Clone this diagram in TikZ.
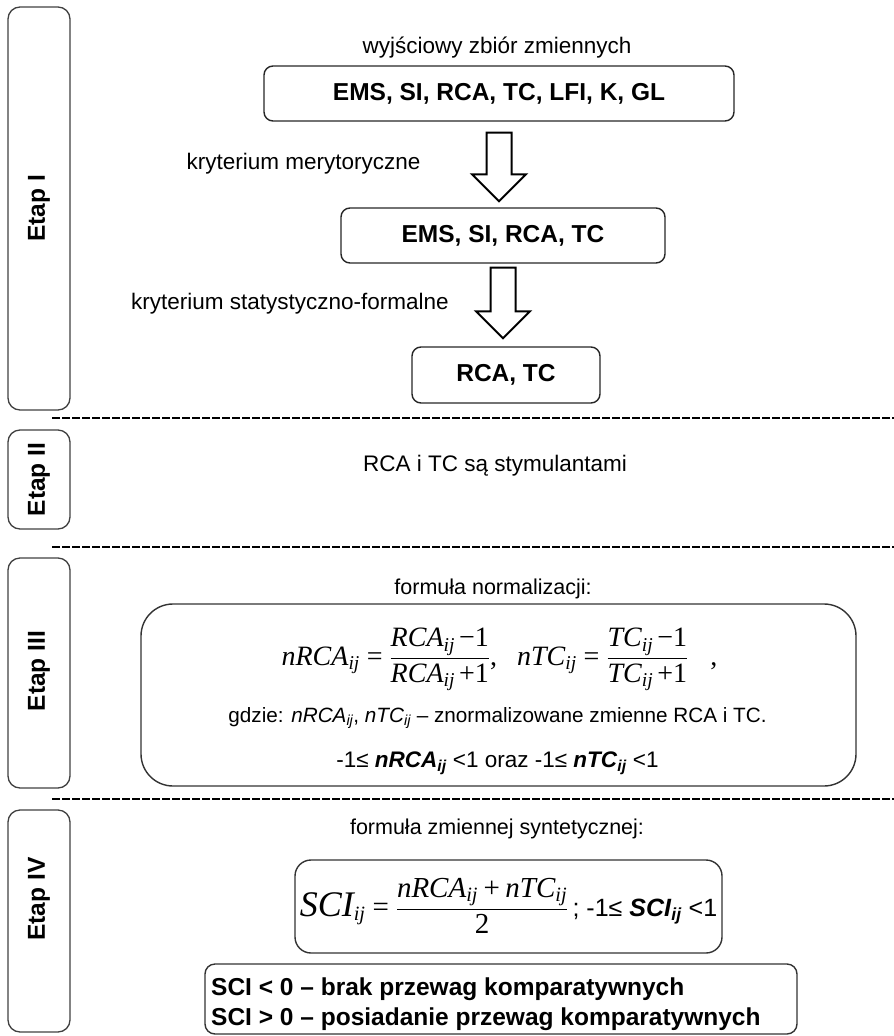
\documentclass[tikz,border=0pt]{standalone}
\usepackage{fontspec}
\usepackage{amsmath}
\setmainfont{Liberation Sans}
\newfontfamily\tms{Liberation Serif}
\usetikzlibrary{calc}

% serif italic / upright pieces for the formulas
\newcommand\mi[1]{\text{\tms\itshape #1}}
\newcommand\mr[1]{\text{\tms #1}}
\newcommand\sub[1]{\textsubscript{\itshape #1}}

% hollow block arrow pointing down, from #1 (top of shaft) to #2 (tip)
\newcommand\blockdown[2]{%
  \draw[blockarrow] let \p1=(#1), \p2=(#2) in
    (\x1-12.5pt,\y1) -- (\x1+12.5pt,\y1) -- (\x1+12.5pt,\y2+27pt) -- (\x1+27pt,\y2+27pt)
    -- (\x1,\y2) -- (\x1-27pt,\y2+27pt) -- (\x1-12.5pt,\y2+27pt) -- cycle;}

\begin{document}
\begin{tikzpicture}[x=1pt,y=-1pt,
  stage/.style={draw=black!75, line width=1.3pt, rounded corners=12pt, inner sep=0pt},
  stagelabel/.style={rotate=90, inner sep=0pt, font=\fontsize{24.5}{29}\selectfont\bfseries},
  varbox/.style={draw=black!85, line width=1.4pt, rounded corners=9pt, inner sep=0pt,
    font=\fontsize{24.5}{29}\selectfont\bfseries},
  frame/.style={draw=black!80, line width=1.4pt, inner sep=0pt},
  caption/.style={inner sep=0pt, font=\fontsize{22.5}{27}\selectfont},
  heading/.style={inner sep=0pt, font=\fontsize{21.5}{26}\selectfont},
  small/.style={inner sep=0pt, font=\fontsize{20.7}{25}\selectfont},
  verdict/.style={inner sep=0pt, font=\fontsize{24.5}{30}\selectfont\bfseries},
  sep/.style={line width=2.4pt, dash pattern=on 7.5pt off 2.5pt},
  blockarrow/.style={draw=black, line width=2pt, fill=white, line join=miter},
]
\useasboundingbox (0,0) rectangle (894,1036);

% stage frames and their labels
\node[stage, minimum width=62, minimum height=403] (st1) at (39,208.5) {};
\node[stage, minimum width=62, minimum height=99]  (st2) at (39,479.5) {};
\node[stage, minimum width=62, minimum height=230] (st3) at (39,673) {};
\node[stage, minimum width=62, minimum height=222] (st4) at (39,921) {};
\node[stagelabel] (l1) at (st1) {Etap I};
\node[stagelabel] (l2) at (st2) {Etap II};
\node[stagelabel] (l3) at (39,671) {Etap III};
\node[stagelabel] (l4) at (39,899) {Etap IV};

% separators between stages
\draw[sep] (52,418) -- (894,418);
\draw[sep] (52,547) -- (894,547);
\draw[sep] (52,799) -- (894,799);

% stage I: selection of variables
\node[caption, anchor=base] (init) at (497,53) {wyjściowy zbiór zmiennych};
\node[varbox, minimum width=470, minimum height=55] (b1) at (499,93.5) {EMS, SI, RCA, TC, LFI, K, GL};
\node[varbox, minimum width=324, minimum height=55] (b2) at (503,235.5) {EMS, SI, RCA, TC};
\node[varbox, minimum width=188, minimum height=56] (b3) at (506,375) {RCA, TC};
\node[caption, anchor=base] (c1) at (303.5,169) {kryterium merytoryczne};
\node[caption, anchor=base] (c2) at (290,309) {kryterium statystyczno-formalne};

\coordinate (a1s) at ($(b1.south)+(0,11)$);
\coordinate (a1e) at ($(b2.north)+(0,-6)$);
\coordinate (a2s) at ($(b2.south)+(0,4)$);
\coordinate (a2e) at ($(b3.north)+(0,-8)$);
\blockdown{a1s}{a1e}
\blockdown{a2s}{a2e}

% stage II
\node[caption, anchor=base] (stim) at (495,471) {RCA i TC są stymulantami};

% stage III: normalisation
\node[heading, anchor=base] (normt) at (493,594) {formuła normalizacji:};
\node[frame, rounded corners=32pt, minimum width=715, minimum height=182] (normbox) at (498.5,695) {};
\node[anchor=base, inner sep=0pt] (norm) at (499.5,665) {\fontsize{28}{34}\selectfont
  $\displaystyle \mi{nRCA}_{\mi{ij}} \mathrel{\mr{=}}
   \frac{\mi{RCA}_{\mi{ij}}\,\mr{−1}}{\mi{RCA}_{\mi{ij}}\,\mr{+1}}\mr{,}\hspace{20pt}
   \mi{nTC}_{\mi{ij}} \mathrel{\mr{=}}
   \frac{\mi{TC}_{\mi{ij}}\,\mr{−1}}{\mi{TC}_{\mi{ij}}\,\mr{+1}}\hspace{22pt}\mr{,}$};
\node[small, anchor=base] (where) at (497.5,722)
  {gdzie: \textit{nRCA}\sub{ij}, \textit{nTC}\sub{ij} – znormalizowane zmienne RCA i TC.};
\node[caption, anchor=base] (range) at (497.5,767)
  {-1≤ \textbf{\textit{nRCA}\sub{ij}} <1 oraz -1≤ \textbf{\textit{nTC}\sub{ij}} <1};

% stage IV: synthetic variable
\node[heading, anchor=base] (scit) at (497,834) {formuła zmiennej syntetycznej:};
\node[frame, rounded corners=16pt, minimum width=427, minimum height=93] (scibox) at (508.5,906.5) {};
\node[anchor=base, inner sep=0pt] (sci) at (508.5,916) {\fontsize{29}{34}\selectfont
  $\displaystyle \text{\fontsize{36}{42}\selectfont\tms\itshape SCI}_{\mi{ij}} \mathrel{\mr{=}}
   \frac{\mi{nRCA}_{\mi{ij}} \mathbin{\mr{+}} \mi{nTC}_{\mi{ij}}}{\mr{2}}
   \text{\fontsize{25}{30}\selectfont\,; -1≤ \textbf{\textit{SCI}\sub{ij}} <1}$};
\node[frame, rounded corners=10pt, minimum width=592, minimum height=70] (cls) at (501,999) {};
\node[verdict, anchor=base west] (neg) at (211,995) {SCI < 0 – brak przewag komparatywnych};
\node[verdict, anchor=base west] (pos) at (211,1025) {SCI > 0 – posiadanie przewag komparatywnych};
\end{tikzpicture}
\end{document}
